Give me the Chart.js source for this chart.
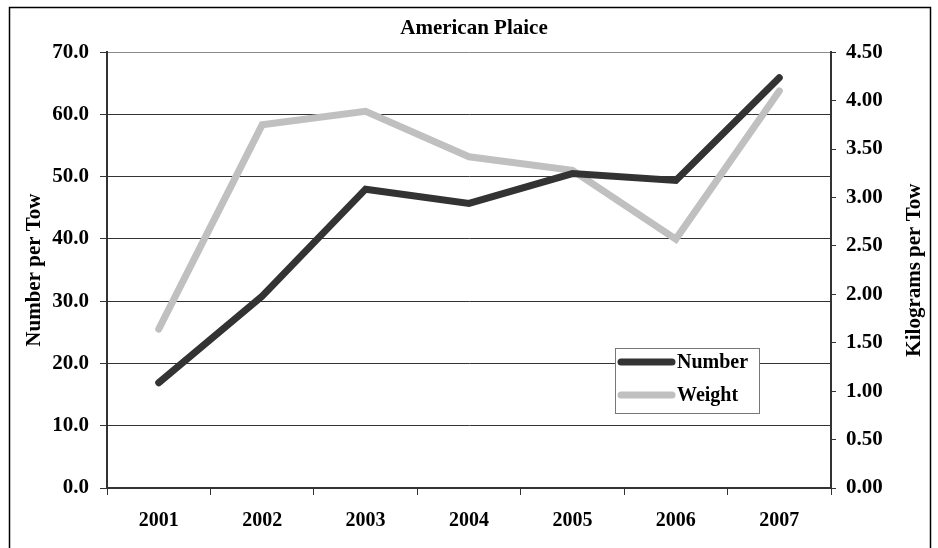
<!DOCTYPE html>
<html>
<head>
<meta charset="utf-8">
<script src="https://cdn.jsdelivr.net/npm/chart.js@4/dist/chart.umd.min.js"></script>
<style>
  html, body { margin: 0; padding: 0; background: #fff; }
  #wrap { width: 938px; height: 548px; position: relative; }
</style>
</head>
<body>
<div id="wrap"><canvas id="plaice"></canvas></div>
<script>
  'use strict'

  // Data
  var years = ['2001', '2002', '2003', '2004', '2005', '2006', '2007']
  var numberPerTow = [16.9, 30.8, 48.0, 45.7, 50.5, 49.4, 65.9]
  var kgPerTow = [1.64, 3.75, 3.89, 3.42, 3.28, 2.57, 4.10]
  var rightTitle = 'Kilograms per Tow'

  var serif = '"Liberation Serif", "Times New Roman", Times, serif'
  Chart.defaults.font.family = serif
  Chart.defaults.font.weight = 'bold'
  Chart.defaults.font.size = 20
  Chart.defaults.color = '#000'

  // outer frame of the figure
  var frame = {
    id: 'frame',
    beforeDraw: function (chart) {
      var c = chart.ctx
      c.save()
      c.fillStyle = '#fff'
      c.fillRect(0, 0, chart.width, chart.height)
      c.strokeStyle = '#000'
      c.lineWidth = 1.5
      c.strokeRect(9.5, 7.5, 921, 600)
      c.restore()
    }
  }

  // right axis title reads bottom to top, like the left one
  var kgTitle = {
    id: 'kgTitle',
    afterDraw: function (chart) {
      var c = chart.ctx
      var a = chart.chartArea
      c.save()
      c.translate(915, (a.top + a.bottom) / 2)
      c.rotate(-Math.PI / 2)
      c.font = 'bold 21px ' + serif
      c.fillStyle = '#000'
      c.textAlign = 'center'
      c.textBaseline = 'middle'
      c.fillText(rightTitle, 0, 0)
      c.restore()
    }
  }

  // legend sitting inside the plot, lower right
  var boxLegend = {
    id: 'boxLegend',
    afterDraw: function (chart) {
      var c = chart.ctx
      var x = 615, y = 348, w = 144, h = 65
      c.save()
      c.fillStyle = '#fff'
      c.fillRect(x, y, w, h)
      c.strokeStyle = '#777'
      c.lineWidth = 1
      c.strokeRect(x + 0.5, y + 0.5, w, h)
      c.font = 'bold 20px ' + serif
      c.textBaseline = 'middle'
      c.textAlign = 'left'
      chart.data.datasets.forEach(function (ds, i) {
        var ly = y + 14 + i * 33
        c.strokeStyle = ds.borderColor
        c.lineWidth = 7
        c.lineCap = 'round'
        c.beginPath()
        c.moveTo(x + 6, ly)
        c.lineTo(x + 57, ly)
        c.stroke()
        c.fillStyle = '#000'
        c.fillText(ds.label, x + 62, ly + 1)
      })
      c.restore()
    }
  }

  var ctx = document.getElementById('plaice')
  // eslint-disable-next-line no-unused-vars
  var chart = new Chart(ctx, {
    type: 'line',
    data: {
      labels: years,
      datasets: [{
        label: 'Number',
        data: numberPerTow,
        yAxisID: 'yNum',
        borderColor: '#333333',
        borderWidth: 7,
        borderCapStyle: 'round',
        pointRadius: 0,
        tension: 0
      }, {
        label: 'Weight',
        data: kgPerTow,
        yAxisID: 'yKg',
        borderColor: '#c0c0c0',
        borderWidth: 7,
        borderCapStyle: 'round',
        pointRadius: 0,
        tension: 0
      }]
    },
    options: {
      responsive: true,
      maintainAspectRatio: false,
      animation: false,
      layout: { padding: { top: 8, left: 10, right: 0, bottom: 0 } },
      plugins: {
        legend: { display: false },
        tooltip: { enabled: false },
        title: {
          display: true,
          text: 'American Plaice',
          font: { size: 21, weight: 'bold' },
          padding: { top: 8, bottom: 11 }
        }
      },
      scales: {
        x: {
          offset: true,
          grid: { offset: true, drawOnChartArea: false, tickLength: 7, color: '#333' },
          border: { color: '#333', width: 2 },
          ticks: { padding: 14, font: { size: 20 } },
          afterFit: function (s) { s.height = 60 }
        },
        yNum: {
          position: 'left',
          min: 0,
          max: 70,
          ticks: {
            stepSize: 10,
            padding: 11,
            font: { size: 21 },
            callback: function (v) { return v.toFixed(1) }
          },
          grid: {
            tickLength: 7,
            tickColor: '#333',
            color: function (c) { return c.tick && c.tick.value === 70 ? '#8a8a8a' : '#333' },
            lineWidth: 1
          },
          border: { color: '#333', width: 2 },
          title: {
            display: true,
            text: 'Number per Tow',
            font: { size: 21, weight: 'bold' },
            padding: { top: 12 }
          },
          afterFit: function (s) { s.width = 97 }
        },
        yKg: {
          position: 'right',
          min: 0,
          max: 4.5,
          ticks: {
            stepSize: 0.5,
            padding: 10,
            font: { size: 21 },
            callback: function (v) { return v.toFixed(2) }
          },
          grid: { drawOnChartArea: false, tickLength: 5, color: '#333' },
          border: { color: '#333', width: 2 },
          afterFit: function (s) { s.width = 107 }
        }
      }
    },
    plugins: [frame, kgTitle, boxLegend]
  })
</script>
</body>
</html>
